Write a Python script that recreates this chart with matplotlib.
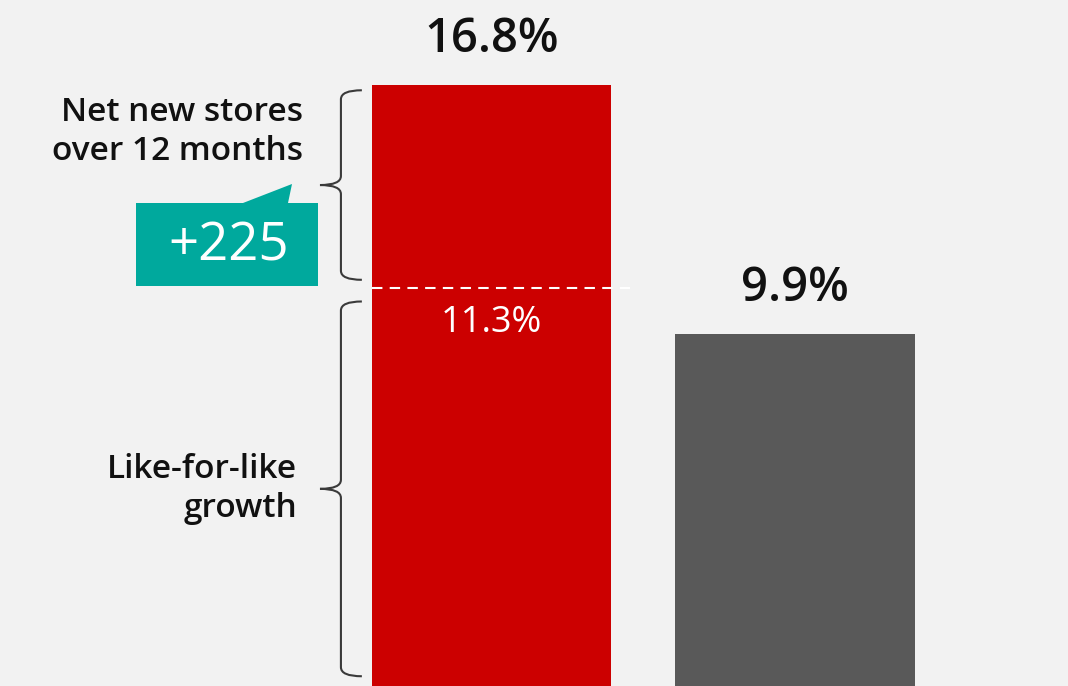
import matplotlib.pyplot as plt
from matplotlib.path import Path
from matplotlib.patches import PathPatch, Polygon

plt.rcParams['font.family'] = ['Open Sans', 'DejaVu Sans']

# data
categories = ['Total growth', 'Comparison']
values = [16.8, 9.9]
lfl_value = 11.3
value_labels = ['16.8%', '9.9%']
lfl_label = '11.3%'
stores_label = '+225'
colors = ['#cc0000', '#595959']
bg = '#f2f2f2'

fig = plt.figure(figsize=(10.68, 6.86), dpi=100, facecolor=bg)
ax = fig.add_axes([0, 0, 1, 1])
ax.set_facecolor(bg)

x = [0, 1]
ax.bar(x, values, width=0.79, color=colors, zorder=2)
ax.set_xlim(-1.619, 1.899)
ax.set_ylim(0.15, 19.15)
ax.axis('off')

# value labels on top of bars
for xi, v, lab in zip(x, values, value_labels):
    ax.text(xi, v + 0.6, lab, ha='center', va='bottom', fontsize=34,
            fontweight='semibold', color='#111111')

# split line inside red bar
ax.plot([-0.395, 0.456], [lfl_value - 0.12, lfl_value - 0.12], color='white', lw=1.5,
        linestyle=(0, (5, 3.5)), zorder=3)
ax.text(0, lfl_value - 0.6, lfl_label, ha='center', va='top', fontsize=26,
        color='white', zorder=4)


def brace(y_top, y_bot, x_end=-0.427, x_spine=-0.496, x_tip=-0.565, r=0.25):
    y_mid = (y_top + y_bot) / 2
    verts = [(x_end, y_top), (x_spine, y_top), (x_spine, y_top - r),
             (x_spine, y_mid + r),
             (x_spine, y_mid), (x_tip, y_mid),
             (x_spine, y_mid), (x_spine, y_mid - r),
             (x_spine, y_bot + r),
             (x_spine, y_bot), (x_end, y_bot)]
    codes = [Path.MOVETO, Path.CURVE3, Path.CURVE3,
             Path.LINETO,
             Path.CURVE3, Path.CURVE3,
             Path.CURVE3, Path.CURVE3,
             Path.LINETO,
             Path.CURVE3, Path.CURVE3]
    ax.add_patch(PathPatch(Path(verts, codes), fill=False, edgecolor='#3a3a3a',
                           lw=1.5, zorder=3))


brace(values[0] - 0.15, lfl_value + 0.1)
brace(lfl_value - 0.5, 0.42)

# side labels
ax.text(-0.62, (values[0] + lfl_value) / 2 + 0.45, 'Net new stores\nover 12 months',
        ha='right', va='bottom', fontsize=24, fontweight='semibold',
        linespacing=1.25, color='#111111')
ax.text(-0.64, lfl_value / 2 - 0.05, 'Like-for-like\ngrowth', ha='right',
        va='center', fontsize=24, fontweight='semibold', linespacing=1.25,
        color='#111111')

# teal callout (figure pixel coords)
W, H = 1068, 686
px = [(136, 203), (243, 203), (292, 184), (288, 203), (318, 203), (318, 286), (136, 286)]
callout = Polygon([(a / W, 1 - b / H) for a, b in px], closed=True,
                  facecolor='#00a99d', edgecolor='none', transform=fig.transFigure, zorder=5)
fig.patches.append(callout)
fig.text(229 / W, 1 - 247 / H, stores_label, ha='center', va='center', fontsize=38,
         color='white', zorder=6)

fig.savefig('out.png', dpi=100, facecolor=bg)
